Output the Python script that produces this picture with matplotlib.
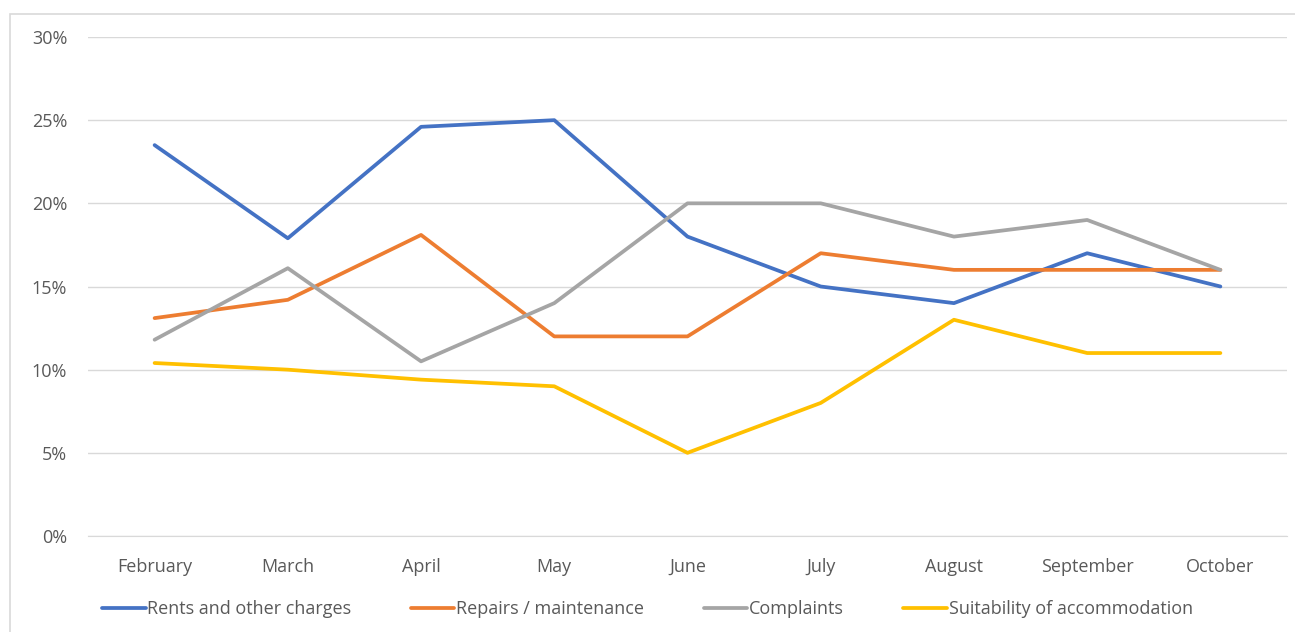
import matplotlib.pyplot as plt
from matplotlib.patches import Rectangle
from matplotlib.ticker import PercentFormatter

months = ["February", "March", "April", "May", "June", "July", "August", "September", "October"]
rents = [23.5, 17.9, 24.6, 25.0, 18.0, 15.0, 14.0, 17.0, 15.0]
repairs = [13.1, 14.2, 18.1, 12.0, 12.0, 17.0, 16.0, 16.0, 16.0]
complaints = [11.8, 16.1, 10.5, 14.0, 20.0, 20.0, 18.0, 19.0, 16.0]
suitability = [10.4, 10.0, 9.4, 9.0, 5.0, 8.0, 13.0, 11.0, 11.0]

series = [
    ("Rents and other charges", rents, "#4472c4"),
    ("Repairs / maintenance", repairs, "#ed7d31"),
    ("Complaints", complaints, "#a5a5a5"),
    ("Suitability of accommodation", suitability, "#ffc000"),
]

plt.rcParams['font.family'] = ['Open Sans', 'DejaVu Sans']
txt = "#595959"

fig = plt.figure(figsize=(12.95, 6.32), dpi=100)
# chart border
fig.patches.append(Rectangle((10 / 1295, -0.1), 1.2, 1.1 - 14 / 632, transform=fig.transFigure,
                             fill=False, edgecolor="#d9d9d9", linewidth=1.2))

ax = fig.add_axes([88 / 1295, 1 - 536 / 632, 1199 / 1295, 499 / 632])
x = range(len(months))
for name, vals, col in series:
    ax.plot(x, vals, color=col, linewidth=2.7, label=name, solid_capstyle="round")

ax.set_xlim(-0.5, len(months) - 0.5)
ax.set_ylim(0, 30)
ax.set_yticks(range(0, 31, 5))
ax.yaxis.set_major_formatter(PercentFormatter(decimals=0))
ax.set_xticks(list(x))
ax.set_xticklabels(months)
ax.grid(axis="y", color="#d9d9d9", linewidth=1)
ax.set_axisbelow(True)
for s in ax.spines.values():
    s.set_visible(False)
ax.spines["bottom"].set_visible(True)
ax.spines["bottom"].set_color("#d9d9d9")
ax.tick_params(length=0, colors=txt, labelsize=13)
ax.tick_params(axis="x", pad=16)
ax.tick_params(axis="y", pad=15)

fig.legend(loc="center", bbox_to_anchor=(0.5, 1 - 609 / 632), ncol=4, frameon=False,
           fontsize=13, labelcolor=txt, handlelength=2.4, handletextpad=0.1, columnspacing=3.3)

fig.savefig("out.png", dpi=100)
